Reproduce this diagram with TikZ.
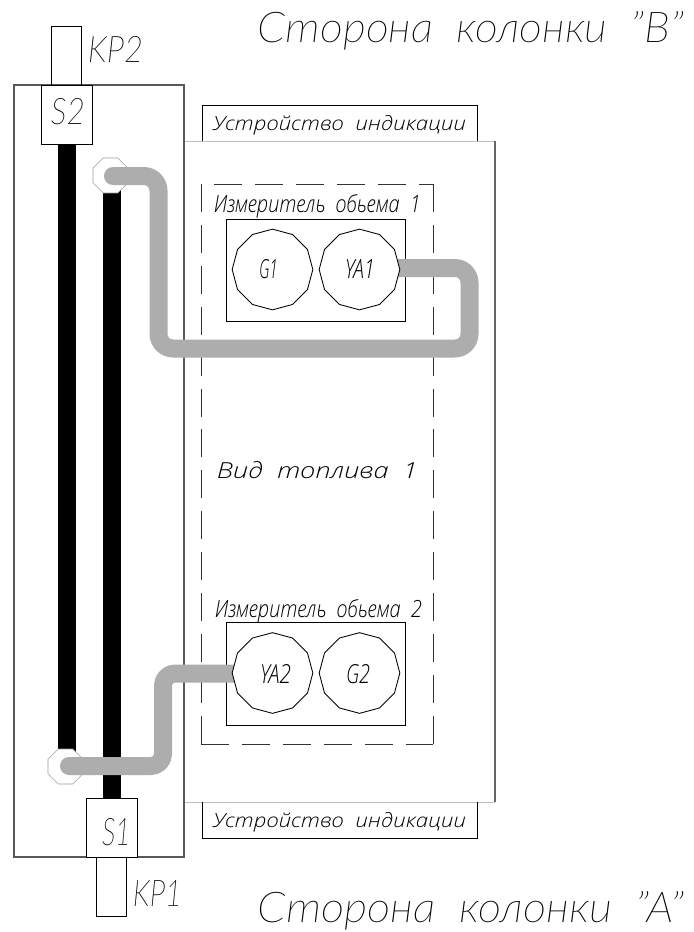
\documentclass[tikz,border=0pt]{standalone}
\usepackage{fontspec}
\setmainfont[UprightFont=* Light,ItalicFont=* Light Italic,BoldFont=*,BoldItalicFont=*]{Open Sans}
\newfontfamily\thinfont[ItalicFont={Lato Thin Italic},UprightFont={Lato Thin}]{Lato Thin}
\newcommand{\cad}[3]{\resizebox{\dimexpr #1pt*3/4\relax}{\dimexpr #2pt*3/4\relax}{\itshape #3}}
\newcommand{\cadthin}[3]{\resizebox{\dimexpr #1pt*3/4\relax}{\dimexpr #2pt*3/4\relax}{\thinfont\itshape #3}}
\definecolor{pipe}{gray}{0.68}
\definecolor{oct}{gray}{0.62}
\usetikzlibrary{shapes.geometric}
\tikzset{
 x=0.75pt,y=-0.75pt,
 box/.style={draw=black,line width=0.65pt,fill=white},
 gbox/.style={draw=black!65,line width=0.9pt},
 lightline/.style={draw=black!25,line width=0.7pt},
 dashline/.style={line width=0.65pt,draw=black!80,dash pattern=on 21pt off 9.7pt},
 pipeline/.style={draw=pipe,line width=13.5pt,line cap=round,line join=round,rounded corners=11pt},
 lab/.style={inner sep=0pt,outer sep=0pt,anchor=base},
 term/.style={draw=oct,line width=0.5pt,fill=white,regular polygon,regular polygon sides=8,inner sep=0pt,minimum size=28.4pt},
 coil/.style={draw=black,line width=0.65pt,fill=white,regular polygon,regular polygon sides=12,inner sep=0pt,minimum size=60.5pt,shape border rotate=15},
}
\begin{document}
\begin{tikzpicture}
\useasboundingbox (0,0) rectangle (693,932);
\fill[white] (0,0) rectangle (693,932);
% indication device body
\draw[lightline] (184,141) -- (495,141);
\draw[lightline] (184,802) -- (495,802);
\draw[gbox,draw=black!60] (495,141) -- (495,802);
\draw[box,fill=none] (202,141) -- (202,105) -- (477,105) -- (477,141);
\draw[box,fill=none] (202,802) -- (202,838) -- (477,838) -- (477,802);
% dashed box
\draw[dashline] (201,744) -- (201,184) -- (433,184);
\draw[dashline] (201,744) -- (433,744);
\draw[dashline] (433,744) -- (433,184);
% column
\draw[gbox] (14,85) rectangle (184,857);
\draw[box,fill=none] (51.5,85) -- (51.5,26) -- (81.5,26) -- (81.5,85);
\draw[box,fill=none] (96.5,857) -- (96.5,916) -- (126.5,916) -- (126.5,857);
\draw[box] (41,85) rectangle (92,144);
\draw[box] (86,798) rectangle (137,857);
% bars
\fill[black] (58,144) rectangle (76,752);
\fill[black] (103,190) rectangle (121,798);
% terminals
\node[term] (t1) at (110.5,175.5) {};
\node[term] (t2) at (65.5,766.5) {};
% meter boxes
\draw[box] (226,219) rectangle (405,321);
\draw[box] (226,622) rectangle (405,725);
% pipes
\coordinate (p1s) at (113,176);
\coordinate (p2s) at (69,766);
\coordinate (p1e) at (380,268);
\coordinate (p2e) at (250,673.5);
\draw[pipeline] (p1s) -- (158.5,176) -- (158.5,348.5) -- (469.5,348.5) -- (469.5,268) -- (p1e);
\draw[pipeline,rounded corners=9pt] (p2s) -- (163,766) -- (163,673.5) -- (p2e);
% coils
\node[coil] (g1) at (272.5,269.5) {};
\node[coil] (ya1) at (359.5,269.5) {};
\node[coil] (ya2) at (272.5,673) {};
\node[coil] (g2) at (359.5,673) {};
% texts
\node[lab] at (471,42) {\cadthin{426}{31}{Сторона\ \ колонки\ \ ”В”}};
\node[lab] at (471,922) {\cadthin{426}{31}{Сторона\ \ колонки\ \ ”А”}};
\node[lab] at (339.5,130) {\cad{253}{15}{Устройство\ \ индикации}};
\node[lab] at (339.5,827) {\cad{253}{15}{Устройство\ \ индикации}};
\node[lab] at (317.5,212) {\cad{207}{18}{Измеритель\ \ обьема\ \ 1}};
\node[lab] at (318.5,617) {\cad{207}{18}{Измеритель\ \ обьема\ \ 2}};
\node[lab] at (317.5,478) {\cad{201}{17}{Вид\ \ топлива\ \ 1}};
\node[lab] at (115.5,62) {\cadthin{55}{26}{KP2}};
\node[lab] at (157.5,906) {\cadthin{49}{26}{KP1}};
\node[lab] at (68,124) {\cadthin{34}{26}{S2}};
\node[lab] at (116.5,845) {\cadthin{29}{27}{S1}};
\node[lab] at (268.5,278) {\cad{19}{19}{G1}};
\node[lab] at (360,278) {\cad{30}{19}{YA1}};
\node[lab] at (275.5,683) {\cad{31}{19}{YA2}};
\node[lab] at (358,683) {\cad{24}{19}{G2}};
\end{tikzpicture}
\end{document}
